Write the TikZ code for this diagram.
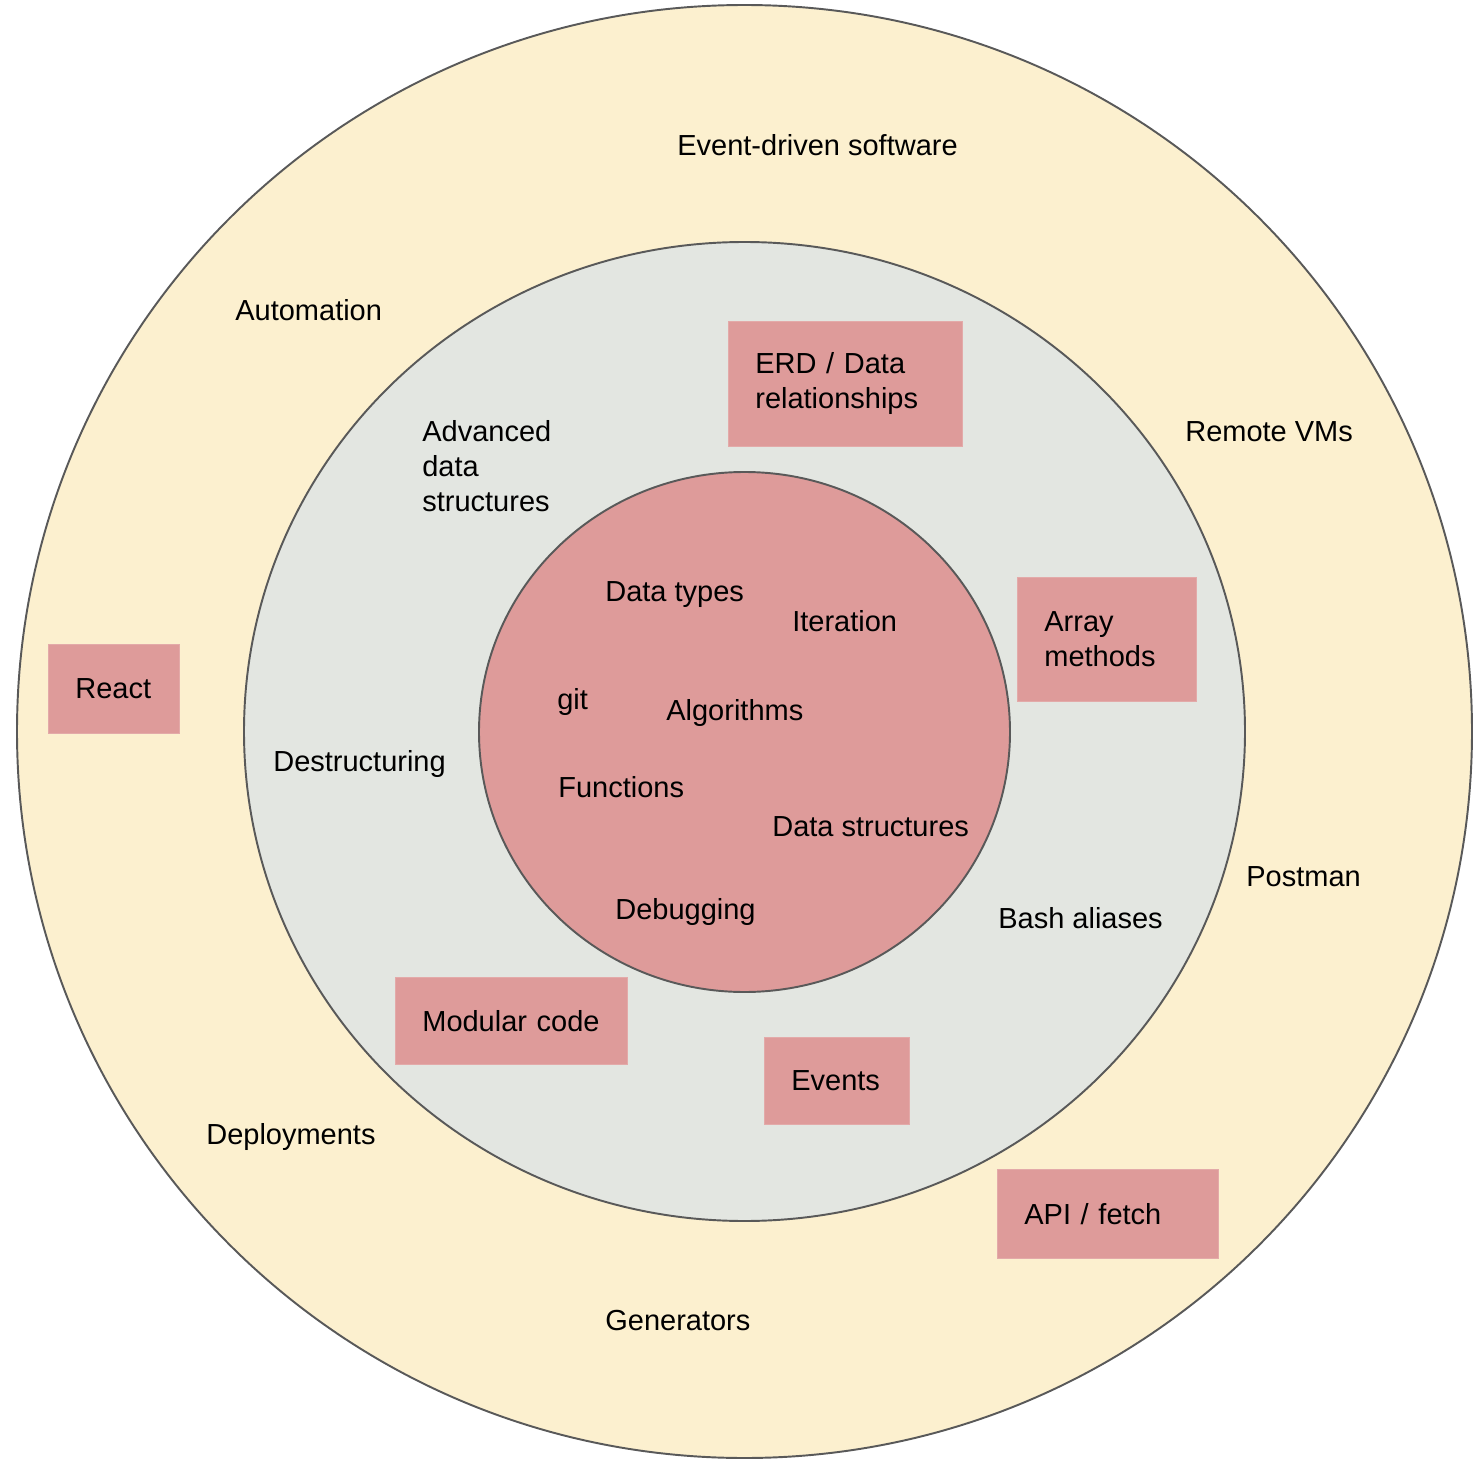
\documentclass[tikz,border=0pt]{standalone}
\usepackage{fontspec}
\setmainfont{Liberation Sans}
\usetikzlibrary{positioning}
\definecolor{ringline}{HTML}{595959}
\definecolor{outerfill}{HTML}{FCF0CF}
\definecolor{midfill}{HTML}{E3E6E1}
\definecolor{corefill}{HTML}{DE9B9A}
\newcommand{\pxu}{0.02cm}

\begin{document}
\begin{tikzpicture}[x=0.02cm, y=-0.02cm,
    font=\fontsize{16.5}{19.9}\selectfont,
    ring/.style={draw=ringline, line width=1.1pt},
    lbl/.style={anchor=base west, inner sep=0pt, align=left},
    tag/.style 2 args={fill=corefill, draw=corefill!85!white, anchor=north west,
      align=left, inner xsep=27*\pxu, inner ysep=0pt,
      minimum width=#1*\pxu, text width=(#1-54)*\pxu, minimum height=#2*\pxu}]
  \useasboundingbox (0,0) rectangle (1482,1470);

  % the three rings
  \filldraw[ring, fill=outerfill] (744.5,731.5) ellipse [x radius=727.5, y radius=726.5];
  \filldraw[ring, fill=midfill] (744.5,731.5) ellipse [x radius=500.5, y radius=489.5];
  \filldraw[ring, fill=corefill] (744.5,732) ellipse [x radius=265.5, y radius=260];

  % outer ring
  \node[lbl] (evt) at (677,155) {Event-driven software};
  \node[lbl] (auto) at (235,320) {Automation};
  \node[lbl] (rvm) at (1185,441) {Remote VMs};
  \node[tag={131}{89}] (react) at (48,644) {React};
  \node[lbl] (postman) at (1246,886) {Postman};
  \node[lbl] (deploy) at (206,1144) {Deployments};
  \node[tag={221}{89}] (api) at (997,1169) {API / fetch};
  \node[lbl] (gen) at (605,1330) {Generators};

  % middle ring
  \node[tag={234}{125}] (erd) at (728,321) {ERD / Data\\relationships};
  \node[lbl] (adv) at (422,511) {Advanced\\data\\structures};
  \node[tag={179}{124}] (arr) at (1017,577) {Array\\methods};
  \node[lbl] (destr) at (273,771) {Destructuring};
  \node[lbl] (bash) at (998,928) {Bash aliases};
  \node[tag={232}{87}] (modular) at (395,977) {Modular code};
  \node[tag={145}{87}] (events) at (764,1037) {Events};

  % core
  \node[lbl] (dtypes) at (605,601) {Data types};
  \node[lbl] (iter) at (792,631) {Iteration};
  \node[lbl] (git) at (557,709) {git};
  \node[lbl] (algo) at (666,720) {Algorithms};
  \node[lbl] (func) at (558,797) {Functions};
  \node[lbl] (dstruct) at (772,836) {Data structures};
  \node[lbl] (debug) at (615,919) {Debugging};
\end{tikzpicture}
\end{document}
